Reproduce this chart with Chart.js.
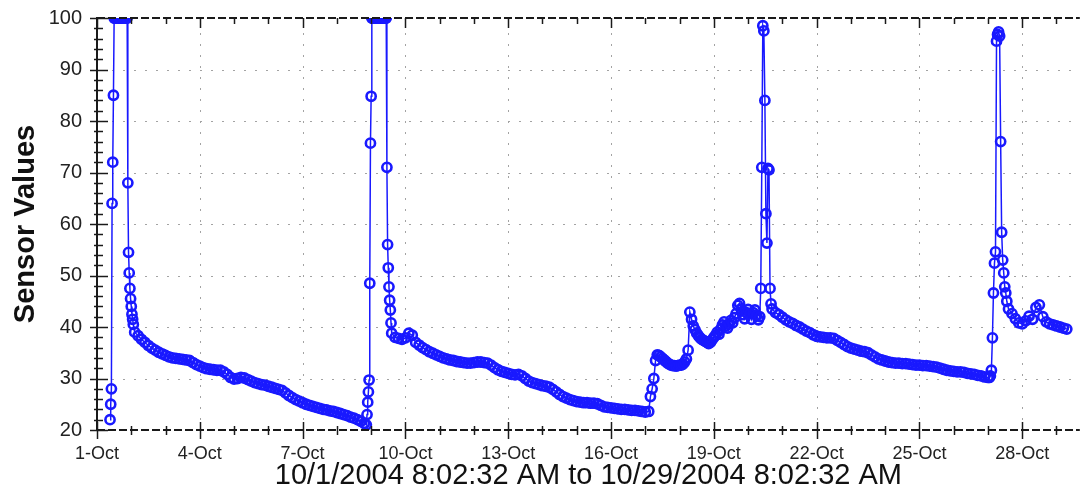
<!DOCTYPE html>
<html>
<head>
<meta charset="utf-8">
<script src="https://cdn.jsdelivr.net/npm/chart.js@4.4.0/dist/chart.umd.min.js"></script>
<style>
  html, body { margin: 0; padding: 0; background: #fff; }
  #wrap { position: relative; width: 1087px; height: 495px; }
</style>
</head>
<body>
<div id="wrap"><canvas id="chart"></canvas></div>
<script>
// days are counted from 1-Oct-2004 00:00
const xMin = 0
const xMax = 28.68
const yMin = 20
const yMax = 100
const yTicks = [20, 30, 40, 50, 60, 70, 80, 90, 100]
const monthLabel = "Oct"

// each run of readings: first sample day and sample interval (days)
const runStart = [0.38, 1.1, 7.86, 8.7, 16.15, 19.34, 19.8, 26.04, 26.6]
const runStep = [0.02, 0.1, 0.02, 0.1, 0.05, 0.03, 0.1, 0.03, 0.1]

const spike1 = [22, 25, 28, 64, 72, 85,
  100, 100, 100, 100, 100, 100, 100, 100, 100, 100,
  100, 100, 100, 100, 100, 100, 100, 100, 100, 100,
  68, 54.5, 50.5, 47.5, 45.5, 44, 42.5, 41.5, 40.5]

const decay1 = [39.0, 38.3, 37.6, 37.0, 36.4, 35.9, 35.5, 35.1, 34.8, 34.5,
  34.2, 34.0, 33.9, 33.8, 33.7, 33.6, 33.5, 33.1, 32.7, 32.4,
  32.1, 31.9, 31.8, 31.7, 31.6, 31.6, 31.3, 30.8, 30.2, 29.9,
  30.0, 30.2, 30.1, 29.8, 29.5, 29.2, 29.0, 28.8, 28.7, 28.5,
  28.3, 28.1, 27.9, 27.7, 27.2, 26.7, 26.3, 25.9, 25.6, 25.3,
  25.0, 24.8, 24.6, 24.4, 24.2, 24.0, 23.9, 23.7, 23.6, 23.4,
  23.2, 23.0, 22.8, 22.5, 22.3, 22.0, 21.7, 21.3]

const spike2 = [21, 23, 25.4, 27.4, 29.7, 48.5, 75.7, 84.8,
  100, 100, 100, 100, 100, 100, 100, 100, 100, 100, 100,
  100, 100, 100, 100, 100, 100, 100, 100, 100, 100, 100,
  71, 56, 51.5, 47.8, 45.2, 43.3, 40.8, 38.8]

const decay2 = [38.0, 37.8, 37.6, 37.9, 38.8, 38.4, 37.0, 36.5, 36.0, 35.6,
  35.2, 34.9, 34.6, 34.3, 34.0, 33.8, 33.6, 33.5, 33.3, 33.2,
  33.1, 33.0, 33.0, 33.1, 33.2, 33.2, 33.1, 33.0, 32.6, 32.1,
  31.7, 31.4, 31.2, 31.0, 30.8, 30.7, 30.8, 30.5, 30.0, 29.5,
  29.2, 29.0, 28.8, 28.6, 28.5, 28.3, 27.9, 27.4, 26.9, 26.5,
  26.2, 25.9, 25.7, 25.5, 25.4, 25.3, 25.3, 25.2, 25.2, 25.1,
  24.8, 24.5, 24.4, 24.3, 24.2, 24.1, 24.0, 24.0, 23.9, 23.8,
  23.8, 23.7, 23.6, 23.5, 23.6]

const recovery = [26.5, 28.0, 30.0, 33.5, 34.6, 34.5, 34.2, 33.9, 33.6, 33.3,
  33.0, 32.8, 32.6, 32.5, 32.5, 32.4, 32.5, 32.6, 32.6, 32.8,
  33.2, 33.8, 35.5, 42.9, 41.5, 40.2, 39.5, 38.8, 38.3, 37.9,
  37.6, 37.4, 37.2, 37.0, 36.8, 37.0, 37.5, 38.0, 38.4, 39.0,
  38.6, 39.6, 40.4, 41.0, 40.2, 39.8, 40.6, 41.3, 40.8, 41.8,
  42.6, 44.2, 44.6, 43.5, 42.4, 41.6, 42.8, 43.4, 42.6, 41.5,
  42.8, 43.3, 42.2, 41.4]

const spike3 = [42.0, 47.5, 71.0, 98.5, 97.5, 84.0, 62.0, 56.3, 70.8, 70.5, 47.5, 44.5, 43.5]

const decay3 = [42.8, 42.4, 41.9, 41.4, 41.0, 40.7, 40.3, 40.0, 39.6, 39.2,
  38.9, 38.5, 38.2, 38.1, 38.0, 37.9, 37.9, 37.8, 37.4, 37.0,
  36.6, 36.2, 35.9, 35.7, 35.5, 35.3, 35.2, 35.0, 34.6, 34.2,
  33.8, 33.6, 33.4, 33.2, 33.1, 33.0, 33.0, 32.9, 32.9, 32.8,
  32.7, 32.6, 32.6, 32.5, 32.5, 32.4, 32.3, 32.2, 32.0, 31.8,
  31.6, 31.5, 31.4, 31.3, 31.3, 31.2, 31.0, 30.9, 30.8, 30.6,
  30.5, 30.3, 30.2]

const spike4 = [30.2, 30.5, 31.6, 37.9, 46.6, 52.4, 54.6, 95.5, 96.8, 97.3,
  96.5, 76.0, 58.4, 53.0, 50.5, 47.8, 46.6, 45.0]

const decay4 = [43.5, 42.6, 41.6, 40.8, 40.6, 41.2, 42.1, 41.5, 43.8, 44.3,
  42.0, 41.0, 40.6, 40.4, 40.2, 40.0, 39.8, 39.6]

const runs = [spike1, decay1, spike2, decay2, recovery, spike3, decay3, spike4, decay4]

const points = []
runs.forEach((vals, r) => {
  vals.forEach((v, i) => points.push({x: runStart[r] + i * runStep[r], y: v}))
})

const blue = "rgb(25, 25, 255)"
const ink = "#1a1a1a"
const font = "Liberation Sans, Arial, sans-serif"

function seg(ctx, x1, y1, x2, y2){
  ctx.beginPath()
  ctx.moveTo(x1, y1)
  ctx.lineTo(x2, y2)
  ctx.stroke()
}

// dotted grid, dashed frame and the little tick marks
const framePlugin = {
  id: "frame",
  beforeDatasetsDraw(chart){
    const {ctx, chartArea: a, scales: {x, y}} = chart
    ctx.save()
    ctx.strokeStyle = "#a3a3a3"
    ctx.lineWidth = 1
    ctx.setLineDash([2, 9])
    yTicks.forEach(v => {
      if (v > yMin && v < yMax) {
        const py = Math.round(y.getPixelForValue(v)) + 0.5
        seg(ctx, a.left + 4, py, a.right, py)
      }
    })
    for (let d = 3; d <= xMax; d += 3) {
      const px = Math.round(x.getPixelForValue(d)) + 0.5
      seg(ctx, px, a.top + 4, px, a.bottom)
    }
    ctx.restore()
  },
  afterDatasetsDraw(chart){
    const {ctx, chartArea: a, scales: {x, y}} = chart
    ctx.save()
    ctx.strokeStyle = ink
    // top and bottom dashed edges
    ctx.lineWidth = 2
    ctx.setLineDash([8, 3])
    seg(ctx, a.left, a.top, a.right, a.top)
    seg(ctx, a.left, a.bottom, a.right, a.bottom)
    ctx.setLineDash([])
    // left axis
    seg(ctx, a.left, a.top - 1, a.left, a.bottom + 1)
    ctx.lineWidth = 1.5
    for (let d = 0; d <= xMax; d++) {
      const px = Math.round(x.getPixelForValue(d)) + 0.5
      const major = d % 3 === 0
      seg(ctx, px, a.top, px, a.top + (major ? 10 : 6))
      seg(ctx, px, a.bottom - (major ? 8 : 4), px, a.bottom + (major ? 9 : 5))
    }
    for (let v = yMin; v <= yMax; v += 2) {
      const py = Math.round(y.getPixelForValue(v)) + 0.5
      const major = v % 10 === 0
      seg(ctx, a.left - (major ? 7 : 3), py, a.left + (major ? 11 : 6), py)
    }
    ctx.restore()
  }
}

const chart = new Chart(document.getElementById("chart").getContext("2d"), {
  type: "line",
  data: {
    datasets: [{
      label: "Sensor",
      data: points,
      borderColor: blue,
      borderWidth: 1.5,
      pointStyle: "circle",
      pointRadius: 4.6,
      pointBorderWidth: 2.6,
      pointBorderColor: blue,
      pointBackgroundColor: "rgba(0,0,0,0)",
      tension: 0,
      clip: 0
    }]
  },
  options: {
    responsive: true,
    maintainAspectRatio: false,
    animation: false,
    events: [],
    layout: { padding: { top: 18, right: 2, left: 0, bottom: 0 } },
    plugins: { legend: { display: false }, tooltip: { enabled: false } },
    scales: {
      x: {
        type: "linear",
        min: xMin,
        max: xMax,
        grid: { display: false },
        border: { display: false },
        afterBuildTicks(scale){
          const t = []
          for (let d = 0; d <= xMax; d++) t.push({value: d})
          scale.ticks = t
        },
        afterFit(scale){
          scale.height = 65
          scale.paddingLeft = 0
          scale.paddingRight = 0
        },
        ticks: {
          autoSkip: false,
          maxRotation: 0,
          padding: 5,
          color: "#222",
          font: { family: font, size: 18 },
          callback: v => (v % 3 === 0 ? (v + 1) + "-" + monthLabel : "")
        },
        title: {
          display: true,
          text: "10/1/2004 8:02:32 AM to 10/29/2004 8:02:32 AM",
          color: "#111",
          padding: { top: 0, bottom: 2 },
          font: { family: font, size: 29 }
        }
      },
      y: {
        min: yMin,
        max: yMax,
        grid: { display: false },
        border: { display: false },
        afterBuildTicks(scale){ scale.ticks = yTicks.map(v => ({value: v})) },
        afterFit(scale){
          scale.width = 97
          scale.paddingTop = 0
          scale.paddingBottom = 0
        },
        ticks: {
          padding: 7,
          color: "#222",
          font: { family: font, size: 20 }
        },
        title: {
          display: true,
          text: "Sensor Values",
          color: "#111",
          padding: { top: 9, bottom: 0 },
          font: { family: font, size: 29, weight: "bold" }
        }
      }
    }
  },
  plugins: [framePlugin]
})
</script>
</body>
</html>
